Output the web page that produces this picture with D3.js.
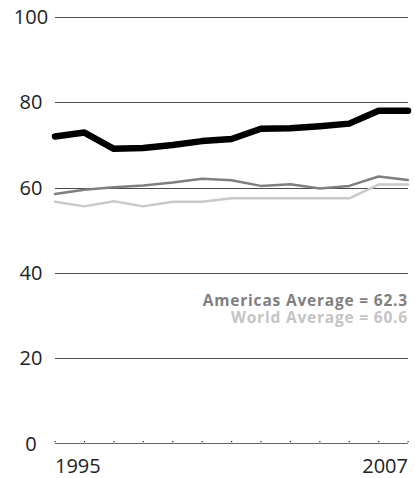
<!DOCTYPE html>
<html>
	<head>
		<style>
			body, html { margin: 0; padding: 0; background: #fff; }
		</style>
	</head>
	<body>
		<svg id="svg" width="415" height="478"></svg>
		<script src="https://d3js.org/d3.v7.min.js"></script>
		<script>
			// Data
			const years = [1995, 1996, 1997, 1998, 1999, 2000, 2001, 2002, 2003, 2004, 2005, 2006, 2007]
			const countryValues = [72.0, 72.9, 69.1, 69.3, 70.0, 70.9, 71.4, 73.8, 73.9, 74.4, 75.0, 78.0, 78.0]
			const americasValues = [58.5, 59.5, 60.1, 60.5, 61.2, 62.1, 61.7, 60.4, 60.8, 59.8, 60.4, 62.6, 61.8]
			const worldValues = [56.7, 55.6, 56.8, 55.6, 56.7, 56.7, 57.5, 57.5, 57.5, 57.5, 57.5, 60.7, 60.7]
			const yTicks = [0, 20, 40, 60, 80, 100]
			const yearLabels = [1995, 2007]
			const notes = ['Americas Average = 62.3', 'World Average = 60.6']

			const svg = d3.select('#svg')
			const font = '"Open Sans", sans-serif'

			const x = d3.scaleLinear().domain([1995, 2007]).range([55, 408])
			const y = d3.scaleLinear().domain([0, 100]).range([443.5, 17])

			// gridlines (not at 0)
			svg.append('g')
				.selectAll('line')
				.data(yTicks.filter(t => t > 0))
				.enter()
				.append('line')
				.attr('x1', x.range()[0])
				.attr('x2', x.range()[1])
				.attr('y1', d => Math.round(y(d)) + 0.5)
				.attr('y2', d => Math.round(y(d)) + 0.5)
				.attr('stroke', '#4a4a4a')
				.attr('stroke-width', 1)

			// base axis with dot ticks
			svg.append('line')
				.attr('x1', x.range()[0])
				.attr('x2', x.range()[1])
				.attr('y1', y(0))
				.attr('y2', y(0))
				.attr('stroke', '#666')
				.attr('stroke-width', 1)

			svg.append('g')
				.selectAll('rect')
				.data(years)
				.enter()
				.append('rect')
				.attr('x', d => x(d) - 0.5)
				.attr('y', y(0) - 2.5)
				.attr('width', 1.2)
				.attr('height', 1.2)
				.attr('fill', '#222')

			// y labels
			svg.append('g')
				.selectAll('text')
				.data(yTicks)
				.enter()
				.append('text')
				.attr('x', 31)
				.attr('y', d => y(d))
				.attr('dy', '0.35em')
				.attr('text-anchor', 'middle')
				.attr('font-family', font)
				.attr('font-size', 20)
				.attr('fill', '#222')
				.text(d => d)

			// year labels
			svg.append('g')
				.selectAll('text')
				.data(yearLabels)
				.enter()
				.append('text')
				.attr('x', d => x(d))
				.attr('y', 473)
				.attr('text-anchor', (d, i) => i === 0 ? 'start' : 'end')
				.attr('font-family', font)
				.attr('font-size', 20)
				.attr('fill', '#222')
				.text(d => d)

			const line = d3.line()
				.x((d, i) => x(years[i]))
				.y(d => y(d))

			const series = [
				{ values: worldValues, color: '#c9c9c9', width: 2.5 },
				{ values: americasValues, color: '#7f7f7f', width: 2.5 },
				{ values: countryValues, color: '#000', width: 6.5 }
			]

			svg.append('g')
				.selectAll('path')
				.data(series)
				.enter()
				.append('path')
				.attr('d', d => line(d.values))
				.attr('fill', 'none')
				.attr('stroke', d => d.color)
				.attr('stroke-width', d => d.width)
				.attr('stroke-linejoin', 'round')
				.attr('stroke-linecap', 'round')

			// average notes
			svg.append('g')
				.selectAll('text')
				.data(notes)
				.enter()
				.append('text')
				.attr('x', 408)
				.attr('y', (d, i) => 306 + i * 17)
				.attr('text-anchor', 'end')
				.attr('font-family', font)
				.attr('font-weight', 'bold')
				.attr('font-size', 15.5)
				.attr('letter-spacing', 0.8)
				.attr('fill', (d, i) => i === 0 ? '#7f7f7f' : '#c4c4c4')
				.text(d => d)
		</script>
	</body>
</html>
